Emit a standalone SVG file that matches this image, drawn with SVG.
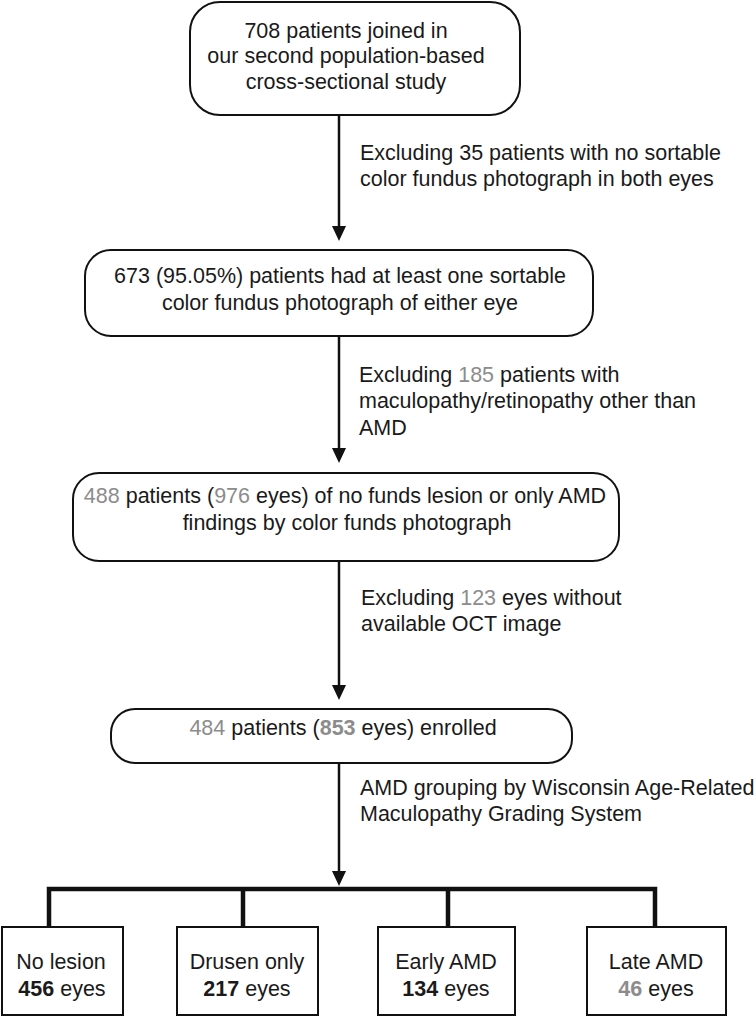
<svg xmlns="http://www.w3.org/2000/svg" width="756" height="1020" viewBox="0 0 756 1020">
<defs>
<style>
text{font-family:"Liberation Sans",Arial,Helvetica,sans-serif;font-size:21.5px;fill:#1a1a1a}
.c{text-anchor:middle}
.g{fill:#8c8c8c}
.b{font-weight:bold}
.box{fill:#fff;stroke:#111;stroke-width:2}
.ln{stroke:#111;stroke-width:2.5;fill:none}
.tk{stroke:#111;stroke-width:4.5;fill:none}
.hd{fill:#111}
</style>
</defs>
<rect width="756" height="1020" fill="#fff"/>
<g id="connectors">
<line class="ln" x1="339" y1="116" x2="339" y2="230"/>
<line class="ln" x1="339" y1="337" x2="339" y2="452"/>
<line class="ln" x1="339" y1="561" x2="339" y2="689"/>
<line class="ln" x1="339" y1="763" x2="339" y2="875"/>
<path class="hd" d="M332,226 L346,226 L339,241 Z"/>
<path class="hd" d="M332,448 L346,448 L339,463 Z"/>
<path class="hd" d="M332,685 L346,685 L339,700 Z"/>
<path class="hd" d="M332,871 L346,871 L339,886 Z"/>
<path class="tk" d="M49,928 V889 H655 V928"/>
<line class="tk" x1="243" y1="889" x2="243" y2="928"/>
<line class="tk" x1="448" y1="889" x2="448" y2="928"/>
</g>
<g id="node-start">
<rect class="box" x="190" y="2" width="330" height="113" rx="30"/>
<text class="c" x="346" y="38">708 patients joined in</text>
<text class="c" x="346" y="63">our second population-based</text>
<text class="c" x="346" y="89">cross-sectional study</text>
</g>
<g id="label-excl1">
<text x="360" y="160">Excluding 35 patients with no sortable</text>
<text x="360" y="186">color fundus photograph in both eyes</text>
</g>
<g id="node-673">
<rect class="box" x="85" y="250" width="508" height="86" rx="26"/>
<text class="c" x="340" y="283">673 (95.05%) patients had at least one sortable</text>
<text class="c" x="340" y="310">color fundus photograph of either eye</text>
</g>
<g id="label-excl2">
<text x="359" y="382">Excluding <tspan class="g">185</tspan> patients with</text>
<text x="359" y="408">maculopathy/retinopathy other than</text>
<text x="359" y="435">AMD</text>
</g>
<g id="node-488">
<rect class="box" x="73" y="473" width="546" height="88" rx="26"/>
<text class="c" x="345" y="503"><tspan class="g">488</tspan> patients (<tspan class="g">976</tspan> eyes) of no funds lesion or only AMD</text>
<text class="c" x="347" y="530">findings by color funds photograph</text>
</g>
<g id="label-excl3">
<text x="361" y="605">Excluding <tspan class="g">123</tspan> eyes without</text>
<text x="361" y="631">available OCT image</text>
</g>
<g id="node-484">
<rect class="box" x="111" y="709" width="461" height="54" rx="24"/>
<text class="c" x="343" y="735"><tspan class="g">484</tspan> patients (<tspan class="g b">853</tspan> eyes) enrolled</text>
</g>
<g id="label-group">
<text x="360" y="795">AMD grouping by Wisconsin Age-Related</text>
<text x="360" y="821">Maculopathy Grading System</text>
</g>
<g id="node-nolesion">
<rect class="box" x="2" y="927" width="121" height="88"/>
<text class="c" x="61" y="969">No lesion</text>
<text class="c" x="62" y="996"><tspan class="b">456</tspan> eyes</text>
</g>
<g id="node-drusen">
<rect class="box" x="177" y="927" width="141" height="88"/>
<text class="c" x="247" y="969">Drusen only</text>
<text class="c" x="247" y="996"><tspan class="b">217</tspan> eyes</text>
</g>
<g id="node-early">
<rect class="box" x="378" y="927" width="137" height="88"/>
<text class="c" x="446" y="969">Early AMD</text>
<text class="c" x="446" y="996"><tspan class="b">134</tspan> eyes</text>
</g>
<g id="node-late">
<rect class="box" x="587" y="927" width="139" height="88"/>
<text class="c" x="656" y="969">Late AMD</text>
<text class="c" x="656" y="996"><tspan class="g b">46</tspan> eyes</text>
</g>
</svg>
